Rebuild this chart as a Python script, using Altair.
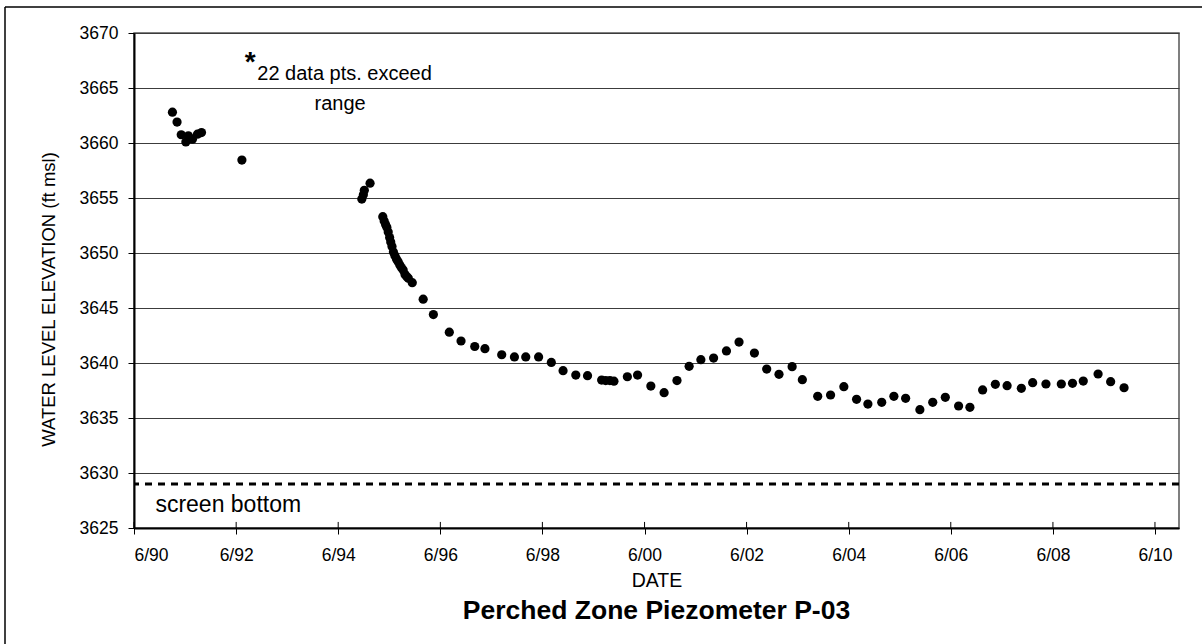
import altair as alt
import pandas as pd

# Water level readings for piezometer P-03 (date, elevation in ft msl)
dates = [
    "1991-03-03", "1991-04-05", "1991-05-05", "1991-06-07", "1991-06-25",
    "1991-07-24", "1991-08-29", "1991-09-27", "1992-07-12",
    "1994-11-17", "1994-11-28", "1994-12-05", "1995-01-15",
    "1995-04-16", "1995-04-26", "1995-05-06", "1995-05-15", "1995-05-25",
    "1995-06-04", "1995-06-12", "1995-06-21", "1995-07-01", "1995-07-12",
    "1995-07-23", "1995-08-04", "1995-08-16", "1995-08-28", "1995-09-09",
    "1995-09-22", "1995-10-05", "1995-10-16", "1995-11-13",
    "1996-01-30", "1996-04-12", "1996-08-04", "1996-10-27", "1997-02-02",
    "1997-04-16", "1997-08-14", "1997-11-13", "1998-02-02", "1998-05-05",
    "1998-08-04", "1998-10-27", "1999-01-26", "1999-04-20", "1999-07-30",
    "1999-08-28", "1999-09-27", "1999-10-26", "2000-01-30", "2000-04-12",
    "2000-07-16", "2000-10-19", "2001-01-19", "2001-04-16", "2001-07-09",
    "2001-10-08", "2002-01-08", "2002-04-08", "2002-07-27", "2002-10-23",
    "2003-01-19", "2003-04-23", "2003-07-05", "2003-10-23", "2004-01-23",
    "2004-04-27", "2004-07-27", "2004-10-16", "2005-01-23", "2005-04-20",
    "2005-07-13", "2005-10-23", "2006-01-23", "2006-04-23", "2006-07-27",
    "2006-10-16", "2007-01-15", "2007-04-16", "2007-07-09", "2007-10-19",
    "2008-01-08", "2008-04-12", "2008-07-31", "2008-10-19", "2009-01-04",
    "2009-04-20", "2009-07-19", "2009-10-23",
]
levels = [
    3662.8, 3661.9, 3660.75, 3660.1, 3660.65,
    3660.35, 3660.8, 3660.95, 3658.45,
    3654.9, 3655.3, 3655.7, 3656.35,
    3653.3, 3652.9, 3652.6, 3652.35, 3651.9,
    3651.4, 3651.0, 3650.6, 3650.1, 3649.75,
    3649.45, 3649.2, 3648.9, 3648.65, 3648.45,
    3648.05, 3647.85, 3647.7, 3647.3,
    3645.8, 3644.4, 3642.8, 3642.0, 3641.5,
    3641.3, 3640.75, 3640.55, 3640.55, 3640.55,
    3640.05, 3639.3, 3638.9, 3638.85, 3638.45,
    3638.4, 3638.4, 3638.35, 3638.75, 3638.9,
    3637.9, 3637.3, 3638.4, 3639.7, 3640.3,
    3640.45, 3641.1, 3641.9, 3640.9, 3639.45,
    3638.97, 3639.67, 3638.48, 3636.97, 3637.09,
    3637.85, 3636.7, 3636.27, 3636.43, 3636.97,
    3636.79, 3635.76, 3636.43, 3636.88, 3636.09,
    3635.97, 3637.55, 3638.06, 3637.94, 3637.7,
    3638.21, 3638.09, 3638.09, 3638.15, 3638.36,
    3639.0, 3638.3, 3637.75,
]

# Axis settings
x_tick_years = [1990, 1992, 1994, 1996, 1998, 2000, 2002, 2004, 2006, 2008, 2010]
x_start = alt.DateTime(year=1990, month=6, date=1, utc=True)
x_end = alt.DateTime(year=2010, month=11, date=20, utc=True)
y_ticks = [3625, 3630, 3635, 3640, 3645, 3650, 3655, 3660, 3665, 3670]
screen_bottom = 3629
chart_title = "Perched Zone Piezometer P-03"

FONT = "Liberation Sans"
W, H = 1045, 495

df = pd.DataFrame({"date": dates, "level": levels})
tick_values = [alt.DateTime(year=y, month=6, date=1, utc=True) for y in x_tick_years]
tick_df = pd.DataFrame({"date": [f"{y}-06-01" for y in x_tick_years]})

x_enc = alt.X(
    "date:T",
    scale=alt.Scale(type="utc", domain=[x_start, x_end]),
    axis=alt.Axis(
        values=tick_values,
        labelExpr="utcFormat(datum.value, '%-m/%y')",
        title="DATE",
        grid=False,
        domainColor="black",
        domainWidth=2,
        tickColor="black",
        tickWidth=1,
        tickSize=6,
        labelFontSize=17.5,
        labelPadding=12,
        labelColor="black",
        labelFont=FONT,
        titleFont=FONT,
        titleFontSize=19.5,
        titleFontWeight="normal",
        titleColor="black",
        titleY=52,
        titleBaseline="middle",
    ),
)
y_enc = alt.Y(
    "level:Q",
    scale=alt.Scale(domain=[3625, 3670], nice=False, zero=False),
    axis=alt.Axis(
        values=y_ticks,
        format="d",
        title="WATER LEVEL ELEVATION (ft msl)",
        grid=True,
        gridColor="#3c3c3c",
        gridWidth=1,
        domainColor="black",
        domainWidth=2,
        tickColor="black",
        tickWidth=1,
        tickSize=6,
        labelFontSize=17.5,
        labelPadding=10,
        labelColor="black",
        labelFont=FONT,
        titleFont=FONT,
        titleFontSize=18.5,
        titleFontWeight="normal",
        titleColor="black",
        titleX=-86,
        titleY=266,
        titleAngle=270,
        titleBaseline="middle",
        titleAlign="center",
    ),
)

points = alt.Chart(df).mark_circle(size=85, color="black", opacity=1).encode(
    x=x_enc, y=y_enc
)

# Inner half of the cross-style date ticks
inner_ticks = alt.Chart(tick_df).mark_rule(color="black", strokeWidth=1).encode(
    x=alt.X("date:T"),
    y=alt.datum(3625),
    y2=alt.datum(3625.55),
)

screen_line = alt.Chart(pd.DataFrame({"level": [screen_bottom]})).mark_rule(
    color="black", strokeWidth=3, strokeDash=[7, 6]
).encode(y="level:Q")

notes = pd.DataFrame({
    "date": ["1992-09-10", "1992-10-30", "1994-06-15", "1990-11-01"],
    "level": [3667.3, 3666.3, 3663.55, 3626.5],
    "text": ["*", "22 data pts. exceed", "range", "screen bottom"],
})

star = alt.Chart(notes.iloc[[0]]).mark_text(
    font=FONT, fontSize=28, fontWeight="bold", color="black", align="center", baseline="middle"
).encode(x="date:T", y="level:Q", text="text:N")
note1 = alt.Chart(notes.iloc[[1]]).mark_text(
    font=FONT, fontSize=20, color="black", align="left", baseline="middle"
).encode(x="date:T", y="level:Q", text="text:N")
note2 = alt.Chart(notes.iloc[[2]]).mark_text(
    font=FONT, fontSize=20, color="black", align="center", baseline="middle"
).encode(x="date:T", y="level:Q", text="text:N")
screen_text = alt.Chart(notes.iloc[[3]]).mark_text(
    font=FONT, fontSize=23, color="black", align="left", baseline="alphabetic"
).encode(x="date:T", y="level:Q", text="text:N")

# Chart title centred under the plot
title_mark = alt.Chart(pd.DataFrame({"t": [chart_title]})).mark_text(
    font=FONT, fontSize=26.5, fontWeight="bold", color="black", align="center", baseline="middle"
).encode(x=alt.value(W / 2), y=alt.value(H + 83), text="t:N")

# Outer chart frame (left and top edges)
frame_left = alt.Chart(pd.DataFrame({"k": [0]})).mark_rule(color="black", strokeWidth=1.5).encode(
    x=alt.value(-129), y=alt.value(-26), y2=alt.value(H + 140)
)
frame_top = alt.Chart(pd.DataFrame({"k": [0]})).mark_rule(color="black", strokeWidth=1.5).encode(
    y=alt.value(-26), x=alt.value(-129), x2=alt.value(W + 60)
)

chart = (
    alt.layer(
        screen_line, points, inner_ticks, star, note1, note2, screen_text,
        title_mark, frame_left, frame_top,
    )
    .properties(
        width=W,
        height=H,
        autosize=alt.AutoSizeParams(type="none"),
        padding={"left": 134, "top": 33, "right": 23, "bottom": 116},
        background="white",
    )
    .configure_view(stroke="#555555", strokeWidth=1.5)
)

chart.save("out.html", embed_options={"renderer": "svg", "actions": False})
